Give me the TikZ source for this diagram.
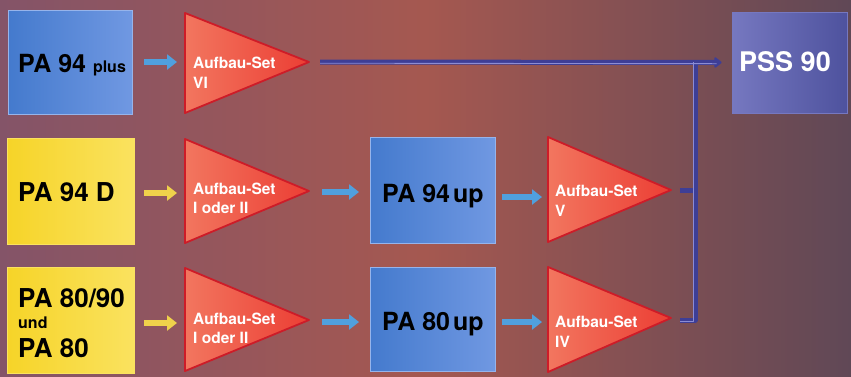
\documentclass[tikz,border=0pt]{standalone}
\usepackage{fontspec}
\setmainfont{TeX Gyre Heros}
\usetikzlibrary{arrows.meta}
\definecolor{bgL}{RGB}{132,84,104}
\definecolor{bgM}{RGB}{165,88,80}
\definecolor{bgR}{RGB}{96,72,86}
\definecolor{blueA}{RGB}{68,122,205}
\definecolor{blueB}{RGB}{112,152,226}
\definecolor{blueE}{RGB}{150,180,235}
\definecolor{pssA}{RGB}{78,82,158}
\definecolor{pssB}{RGB}{118,120,192}
\definecolor{yelA}{RGB}{246,212,40}
\definecolor{yelB}{RGB}{250,226,95}
\definecolor{triA}{RGB}{242,118,95}
\definecolor{triB}{RGB}{236,62,52}
\definecolor{triE}{RGB}{205,28,40}
\definecolor{arrBlue}{RGB}{80,160,222}
\definecolor{arrYel}{RGB}{240,210,75}
\definecolor{busD}{RGB}{62,62,150}
\definecolor{busL}{RGB}{140,140,212}
\tikzset{
  bluebox/.style={rectangle, draw=blueE, line width=0.8pt, left color=blueA, right color=blueB, inner sep=0pt},
  yelbox/.style={rectangle, draw=yelB, line width=0.8pt, left color=yelA, right color=yelB, inner sep=0pt},
  pssbox/.style={rectangle, draw=pssB, line width=0.8pt, left color=pssB, right color=pssA, inner sep=0pt},
  tri/.style={draw=triE, line width=1.8pt, line join=round, left color=triA, right color=triB},
  bigtxt/.style={inner sep=0pt, anchor=base west, font=\bfseries\fontsize{26}{26}\selectfont, text=black},
  midtxt/.style={inner sep=0pt, anchor=base west, font=\bfseries\fontsize{25}{25}\selectfont, text=black},
  settxt/.style={inner sep=0pt, anchor=base west, font=\bfseries\fontsize{15.5}{15.5}\selectfont, text=white},
  smallarr/.style={line width=6.5pt, -{Triangle[width=15pt,length=10pt]}},
  busline/.style={line width=5pt, draw=busD, line join=round},
  bushl/.style={line width=0.9pt, draw=busL, line join=round},
}
\begin{document}
\begin{tikzpicture}[x=1pt,y=-1pt]
\useasboundingbox (0,0) rectangle (851,376);
\fill[left color=bgL, right color=bgR, middle color=bgM] (0,0) rectangle (851,376);

% boxes
\node[bluebox, minimum width=124pt, minimum height=104pt] (pa94plus) at (70,62) {};
\node[yelbox, minimum width=127pt, minimum height=106pt] (pa94d) at (70.5,191) {};
\node[yelbox, minimum width=127pt, minimum height=106pt] (pa80) at (70.5,320) {};
\node[bluebox, minimum width=125pt, minimum height=106pt] (pa94up) at (432.5,190) {};
\node[bluebox, minimum width=125pt, minimum height=104pt] (pa80up) at (432.5,319) {};
\node[pssbox, minimum width=115pt, minimum height=101pt] (pss90) at (789.5,62.5) {};

% box texts
\node[bigtxt, font=\bfseries\fontsize{25}{25}\selectfont] (tpa94plus) at (18,72) {PA 94 {\fontsize{16}{16}\selectfont plus}};
\node[bigtxt] (tpa94d) at (18,201) {PA 94 D};
\node[bigtxt] (tpa8090) at (18,307) {PA 80/90};
\node[bigtxt, font=\bfseries\fontsize{16}{16}\selectfont] (tund) at (18,328) {und};
\node[bigtxt] (tpa80) at (18,357) {PA 80};
\node[midtxt] (tpa94up) at (382,202) {PA 94\kern0.12em up};
\node[midtxt] (tpa80up) at (382,330) {PA 80\kern0.12em up};
\node[bigtxt, text=white, font=\bfseries\fontsize{27}{27}\selectfont] (tpss) at (739,71) {PSS 90};

% triangles
\coordinate (t1tip) at (309,62);
\coordinate (t2tip) at (309,191);
\coordinate (t3tip) at (309,320);
\coordinate (t4tip) at (671,190);
\coordinate (t5tip) at (671,318);
\path[tri] (185,13) -- (t1tip) -- (185,113) -- cycle;
\path[tri] (185,139) -- (t2tip) -- (185,243) -- cycle;
\path[tri] (185,268) -- (t3tip) -- (185,371) -- cycle;
\path[tri] (548,137) -- (t4tip) -- (548,242) -- cycle;
\path[tri] (548,267) -- (t5tip) -- (548,372) -- cycle;

% triangle texts
\node[settxt] (s1a) at (193,68) {Aufbau-Set};
\node[settxt] (s1b) at (193,88) {VI};
\node[settxt] (s2a) at (193,194) {Aufbau-Set};
\node[settxt] (s2b) at (193,213) {I oder II};
\node[settxt] (s3a) at (193,324) {Aufbau-Set};
\node[settxt] (s3b) at (193,343) {I oder II};
\node[settxt] (s4a) at (555,196) {Aufbau-Set};
\node[settxt] (s4b) at (555,216) {V};
\node[settxt] (s5a) at (555,327) {Aufbau-Set};
\node[settxt] (s5b) at (555,347) {IV};

% small arrows
\coordinate (a1s) at (144,62);  \coordinate (a1e) at (177,62);
\coordinate (a2s) at (144,193); \coordinate (a2e) at (177,193);
\coordinate (a3s) at (144,323); \coordinate (a3e) at (177,323);
\coordinate (a4s) at (322,192); \coordinate (a4e) at (359,192);
\coordinate (a5s) at (322,322); \coordinate (a5e) at (359,322);
\coordinate (a6s) at (502,197); \coordinate (a6e) at (542,197);
\coordinate (a7s) at (502,322); \coordinate (a7e) at (542,322);
\draw[smallarr, arrBlue] (a1s) -- (a1e);
\draw[smallarr, arrYel] (a2s) -- (a2e);
\draw[smallarr, arrYel] (a3s) -- (a3e);
\draw[smallarr, arrBlue] (a4s) -- (a4e);
\draw[smallarr, arrBlue] (a5s) -- (a5e);
\draw[smallarr, arrBlue] (a6s) -- (a6e);
\draw[smallarr, arrBlue] (a7s) -- (a7e);

% bus lines to PSS 90
\coordinate (bus1) at (695,62);
\coordinate (bus4) at (695,190);
\coordinate (bus5) at (695,320);
\coordinate (l1s) at (320,62);
\coordinate (l4s) at (680,190);
\coordinate (l5s) at (680,320);
\draw[busline] (l5s) -- (bus5) -- (bus1);
\draw[busline] (l4s) -- (bus4);
\draw[busline, -{Triangle[width=12pt,length=8pt,round]}, shorten >=10pt] (l1s) -- (pss90.west);
\draw[bushl] ([yshift=-1.2pt]l5s) -- ([xshift=-1.2pt,yshift=-1.2pt]bus5) -- ([xshift=-1.2pt]bus1);
\draw[bushl] ([yshift=-1.2pt]l1s) -- ([xshift=-15pt,yshift=-1.2pt]pss90.west);
\end{tikzpicture}
\end{document}
